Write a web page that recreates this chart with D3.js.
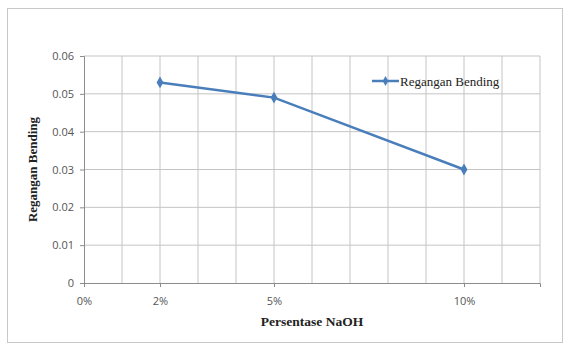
<!DOCTYPE html>
<html>
<head>
<meta charset="utf-8">
<script src="https://cdn.jsdelivr.net/npm/d3@7"></script>
<style>
  body { margin: 0; background: #fff; }
  .tick text { font-family: "Open Sans", "Liberation Sans", sans-serif; font-size: 11px; fill: #555; }
</style>
</head>
<body>
<svg id="chart" width="565" height="345"></svg>
<script>
// percentages of NaOH and the measured bending strain
const naoh = [2, 5, 10];
const regangan = [0.053, 0.049, 0.030];
const xTickValues = [0, 2, 5, 10];
const yTickValues = [0, 0.01, 0.02, 0.03, 0.04, 0.05, 0.06];
const seriesName = "Regangan Bending";

const svg = d3.select("#chart");
const margin = {left: 84, right: 25, top: 56, bottom: 62};
const width = 565 - margin.left - margin.right;
const height = 345 - margin.top - margin.bottom;
const blue = "#4a7ebb";

// outer chart border
svg.append("rect")
  .attr("x", 7.5).attr("y", 8.5)
  .attr("width", 555).attr("height", 334)
  .attr("fill", "#fff").attr("stroke", "#c8c8c8");

const g = svg.append("g")
  .attr("transform", "translate(" + margin.left + "," + margin.top + ")");

const x = d3.scaleLinear().domain([0, 12]).range([0, width]);
const y = d3.scaleLinear().domain([0, 0.06]).range([height, 0]);

// grid
g.selectAll(".vgrid")
  .data(d3.range(1, 13))
  .enter().append("line")
  .attr("class", "vgrid")
  .attr("x1", d => x(d)).attr("x2", d => x(d))
  .attr("y1", 0).attr("y2", height)
  .attr("stroke", "#c4c4c4");

g.selectAll(".hgrid")
  .data(yTickValues.slice(1))
  .enter().append("line")
  .attr("class", "hgrid")
  .attr("x1", 0).attr("x2", width)
  .attr("y1", d => y(d)).attr("y2", d => y(d))
  .attr("stroke", "#c4c4c4");

// axes
const yAxis = g.append("g")
  .call(d3.axisLeft(y).tickValues(yTickValues).tickSize(4).tickPadding(6)
    .tickFormat(d => d === 0 ? "0" : d3.format(".2f")(d)));
yAxis.select(".domain").attr("stroke", "#8c8c8c");
yAxis.selectAll(".tick line").attr("stroke", "#8c8c8c");

const xAxis = g.append("g")
  .attr("transform", "translate(0," + height + ")")
  .call(d3.axisBottom(x).tickValues(xTickValues).tickSize(4).tickPadding(10)
    .tickFormat(d => d + "%"));
xAxis.select(".domain").attr("stroke", "#8c8c8c");
xAxis.selectAll(".tick line").attr("stroke", "#8c8c8c");

// series line + diamond markers
const line = d3.line()
  .x((d, i) => x(naoh[i]))
  .y(d => y(d));

g.append("path")
  .datum(regangan)
  .attr("d", line)
  .attr("fill", "none")
  .attr("stroke", blue)
  .attr("stroke-width", 2.5);

const diamond = d3.symbol().type(d3.symbolDiamond).size(40);
g.selectAll(".pt")
  .data(regangan)
  .enter().append("path")
  .attr("class", "pt")
  .attr("d", diamond)
  .attr("transform", (d, i) => "translate(" + x(naoh[i]) + "," + y(d) + ")")
  .attr("fill", blue);

// legend
const leg = svg.append("g").attr("transform", "translate(372,81)");
leg.append("line")
  .attr("x1", 0).attr("x2", 27).attr("y1", 0).attr("y2", 0)
  .attr("stroke", blue).attr("stroke-width", 2.5);
leg.append("path").attr("d", d3.symbol().type(d3.symbolDiamond).size(28))
  .attr("transform", "translate(13.5,0)").attr("fill", blue);
leg.append("text")
  .attr("x", 28).attr("y", 4.5)
  .style("font-family", "'Liberation Serif', 'Times New Roman', serif")
  .style("font-size", "13px")
  .attr("fill", "#222")
  .text(seriesName);

// axis titles
svg.append("text")
  .attr("x", margin.left + x(6.0)).attr("y", 326)
  .attr("text-anchor", "middle")
  .style("font-family", "'Liberation Serif', 'Times New Roman', serif")
  .style("font-size", "13.5px").style("font-weight", "bold")
  .attr("fill", "#222")
  .text("Persentase NaOH");

svg.append("text")
  .attr("transform", "translate(37," + (margin.top + height / 2) + ") rotate(-90)")
  .attr("text-anchor", "middle")
  .style("font-family", "'Liberation Serif', 'Times New Roman', serif")
  .style("font-size", "13px").style("font-weight", "bold")
  .attr("fill", "#222")
  .text(seriesName);
</script>
</body>
</html>
